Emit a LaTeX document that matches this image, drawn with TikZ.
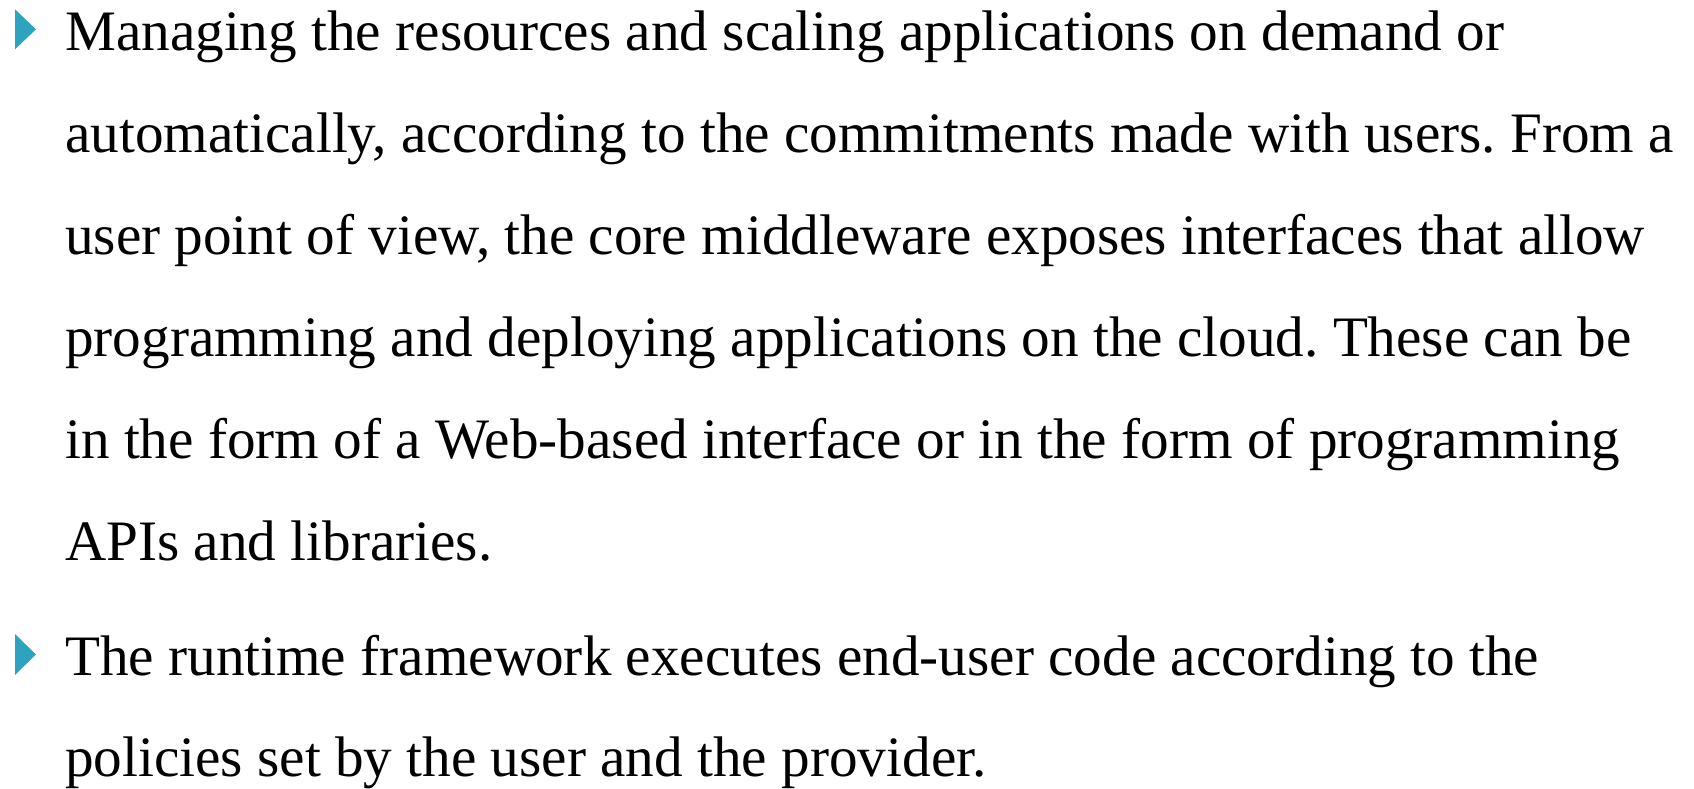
\documentclass[tikz,border=0pt]{standalone}
\usepackage{fontspec}
\setmainfont{Liberation Serif}
\frenchspacing
\definecolor{bulletcol}{RGB}{46,163,192}
\begin{document}
\begin{tikzpicture}[x=1pt,y=-1pt,
  txt/.style={anchor=base west,inner sep=0pt,font=\fontsize{57.2}{70}\selectfont}]
\useasboundingbox (0,0) rectangle (1694,788);
\fill[bulletcol] (15,9.3) -- (36,29.3) -- (15,49.3) -- cycle;
\node[txt] (l1) at (65,50.7) {Managing the resources and scaling applications on demand or};
\node[txt] (l2) at (65,152.7) {automatically, according to the commitments made with users. From a};
\node[txt] (l3) at (65,254.5) {user point of view, the core middleware exposes interfaces that allow};
\node[txt] (l4) at (65,356) {programming and deploying applications on the cloud. These can be};
\node[txt] (l5) at (65,458.5) {in the form of a Web-based interface or in the form of programming};
\node[txt] (l6) at (65,560.5) {APIs and libraries.};
\fill[bulletcol] (15,634) -- (36,654.5) -- (15,675) -- cycle;
\node[txt] (l7) at (65,675) {The runtime framework executes end-user code according to the};
\node[txt] (l8) at (65,776.7) {policies set by the user and the provider.};
\end{tikzpicture}
\end{document}
